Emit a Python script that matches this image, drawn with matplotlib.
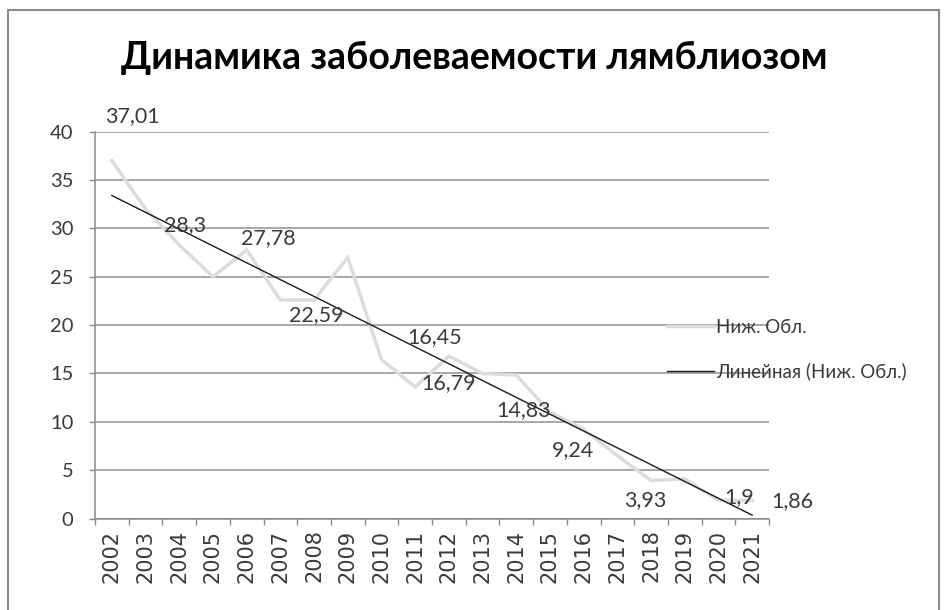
import numpy as np
import matplotlib
matplotlib.use("Agg")
import matplotlib.pyplot as plt
from matplotlib.patches import Rectangle

# Заболеваемость лямблиозом, Нижегородская область
years = ["2002", "2003", "2004", "2005", "2006", "2007", "2008", "2009", "2010", "2011",
         "2012", "2013", "2014", "2015", "2016", "2017", "2018", "2019", "2020", "2021"]
incidence = [37.01, 32.0, 28.3, 25.0, 27.78, 22.6, 22.59, 27.0, 16.45, 13.6,
             16.79, 15.0, 14.83, 11.0, 9.24, 6.5, 3.93, 4.1, 1.9, 1.86]

# which points carry a value label
labelled_years = ["2002", "2004", "2006", "2008", "2010", "2012", "2014", "2016", "2018", "2020", "2021"]

series_name = "Ниж. Обл."
trend_name = "Линейная (Ниж. Обл.)"
title = "Динамика заболеваемости лямблиозом"

# label placement (pixel offsets from each labelled point)
label_offsets = [(21, 45), (6, 20), (22, 12), (2, -15), (53, 22), (0, -27),
                 (7, -35), (-11, -21), (-6, -20), (21, 3), (40, -1)]

W, H = 948, 610
fig = plt.figure(figsize=(W / 100, H / 100), dpi=100)
fig.patch.set_facecolor("white")

# outer chart border
fig.add_artist(Rectangle((8 / W, -0.05), 931 / W, 1.05 - 10 / H, transform=fig.transFigure,
                         fill=False, edgecolor="#8a8a8a", linewidth=1.5))

ax = fig.add_axes([95 / W, 1 - 518.5 / H, 674 / W, (518.5 - 131.7) / H])

x = np.arange(len(years))
y = np.array(incidence)

line_data, = ax.plot(x, y, color="#dcdcdc", linewidth=2.5, solid_joinstyle="miter",
                     label=series_name, zorder=3)

coef = np.polyfit(x, y, 1)
trend = np.polyval(coef, x)
line_trend, = ax.plot(x, trend, color="#1a1a1a", linewidth=1.0, label=trend_name, zorder=4)

label_font = dict(family=["Lato", "DejaVu Sans"], fontsize=15.5, color="#3a3a3a")
for yr, (dx, dy) in zip(labelled_years, label_offsets):
    i = years.index(yr)
    val = incidence[i]
    txt = f"{val:g}".replace(".", ",")
    ax.annotate(txt, (x[i], val), xytext=(dx, dy), textcoords="offset pixels",
                ha="center", va="center", zorder=5, **label_font)

ax.set_xlim(-0.5, len(years) - 0.5)
ax.set_ylim(0, 40)
ax.set_yticks(np.arange(0, 41, 5))
ax.set_yticklabels([str(v) for v in range(0, 41, 5)], family=["Lato", "DejaVu Sans"],
                   fontsize=14.5, color="#3a3a3a")
ax.set_xticks(x)
ax.set_xticklabels(years, rotation=90, family="DejaVu Sans", fontsize=15, color="#3a3a3a")
ax.set_xticks(np.arange(-0.5, len(years), 1), minor=True)

ax.tick_params(axis="x", which="major", length=0, pad=8)
ax.tick_params(axis="x", which="minor", length=4.5, width=1, color="#8a8a8a", direction="out")
ax.tick_params(axis="y", which="major", length=4.5, width=1, color="#8a8a8a", pad=11)

ax.yaxis.grid(True, color="#8f8f8f", linewidth=1.1)
ax.set_axisbelow(True)
for side in ("top", "right"):
    ax.spines[side].set_visible(False)
for side in ("left", "bottom"):
    ax.spines[side].set_color("#8a8a8a")
    ax.spines[side].set_linewidth(1.1)
ax.set_facecolor("none")

leg = ax.legend(handles=[line_data, line_trend], loc="upper left",
                bbox_to_anchor=(667 / W, 1 - 319 / H), bbox_transform=fig.transFigure,
                frameon=False, prop={"family": ["Lato", "DejaVu Sans"], "size": 13.5},
                handlelength=2.5, handletextpad=0.1, labelspacing=1.42,
                borderpad=0, borderaxespad=0)
for t in leg.get_texts():
    t.set_color("#3a3a3a")

fig.text(0.5, 1 - 58 / H, title, ha="center", va="center", fontsize=27,
         fontweight="bold", family=["Lato", "DejaVu Sans"], color="black")

fig.savefig("out.png", dpi=100)
